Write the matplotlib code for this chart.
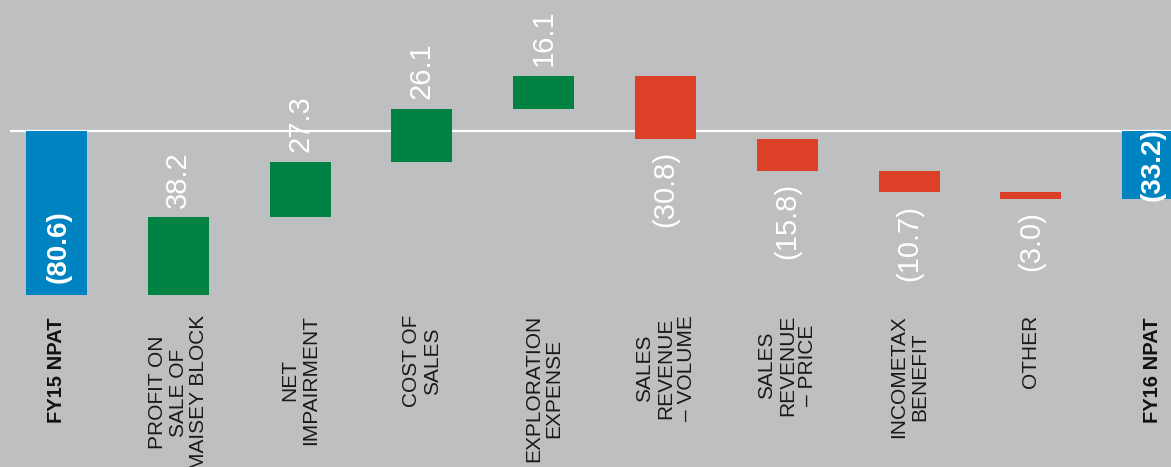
import matplotlib.pyplot as plt
import matplotlib.transforms as mtransforms

# waterfall FY15 -> FY16 NPAT
categories = ["FY15 NPAT", "PROFIT ON\nSALE OF\nMAISEY BLOCK", "NET\nIMPAIRMENT",
              "COST OF\nSALES", "EXPLORATION\nEXPENSE", "SALES\nREVENUE\n\u2013 VOLUME",
              "SALES\nREVENUE\n\u2013 PRICE", "INCOMETAX\nBENEFIT", "OTHER", "FY16 NPAT"]
values = [-80.6, 38.2, 27.3, 26.1, 16.1, -30.8, -15.8, -10.7, -3.0, -33.2]
is_total = [True, False, False, False, False, False, False, False, False, True]

bg = "#bebfc1"
blue = "#0083c1"
green = "#008242"
red = "#dc4128"

plt.rcParams['font.family'] = ['Liberation Sans Narrow', 'Liberation Sans', 'DejaVu Sans']
bold_font = ['Liberation Sans', 'DejaVu Sans']

fig = plt.figure(figsize=(11.71, 4.67), dpi=100, facecolor=bg)
ax = fig.add_axes([0, 0, 1, 1])
ax.set_facecolor(bg)

bottoms = []
colors = []
running = 0.0
for v, tot in zip(values, is_total):
    if tot:
        bottoms.append(0.0)
        colors.append(blue)
        running = v
    else:
        bottoms.append(running)
        colors.append(green if v > 0 else red)
        running += v

x = list(range(len(values)))
ax.bar(x, values, bottom=bottoms, width=0.5, color=colors, zorder=2)

ax.set_xlim(-0.464, 9.15)
ax.set_ylim(-165.1, 64.4)
ax.axhline(0, xmin=11 / 1171, xmax=1, color="white", lw=1.6, zorder=1)
ax.axis("off")

def fmt(v):
    return f"({abs(v):.1f})" if v < 0 else f"{v:.1f}"

for i, (v, b, tot) in enumerate(zip(values, bottoms, is_total)):
    top = b + v
    if tot:
        if i == 0:
            ax.annotate(fmt(v), (i, top), xytext=(1.5, 9), textcoords="offset points",
                        rotation=90, ha="center", va="bottom", color="white",
                        fontsize=20, fontweight="bold", family=bold_font)
        else:
            ax.annotate(fmt(v), (i, top / 2), rotation=90, ha="center", va="center",
                        color="white", fontsize=20, fontweight="bold", family=bold_font)
    elif v > 0:
        ax.annotate(fmt(v), (i, top), xytext=(0, 7), textcoords="offset points",
                    rotation=90, ha="center", va="bottom", color="white", fontsize=21)
    else:
        ax.annotate(fmt(v), (i, top), xytext=(0, -9), textcoords="offset points",
                    rotation=90, ha="center", va="top", color="white", fontsize=21)

trans = mtransforms.blended_transform_factory(ax.transData, ax.transAxes)
for i, (lab, tot) in enumerate(zip(categories, is_total)):
    if tot:
        ax.text(i, 1 - 317 / 467, lab, transform=trans, rotation=90, ha="center", va="top",
                color="#111111", fontsize=14.5, fontweight="bold", family=bold_font)
    else:
        ax.text(i, 1 - 315 / 467, lab, transform=trans, rotation=90, ha="center", va="top",
                multialignment="center", linespacing=1.1, color="#1a1a1a", fontsize=15)

fig.savefig("out.png", dpi=100, facecolor=bg)
